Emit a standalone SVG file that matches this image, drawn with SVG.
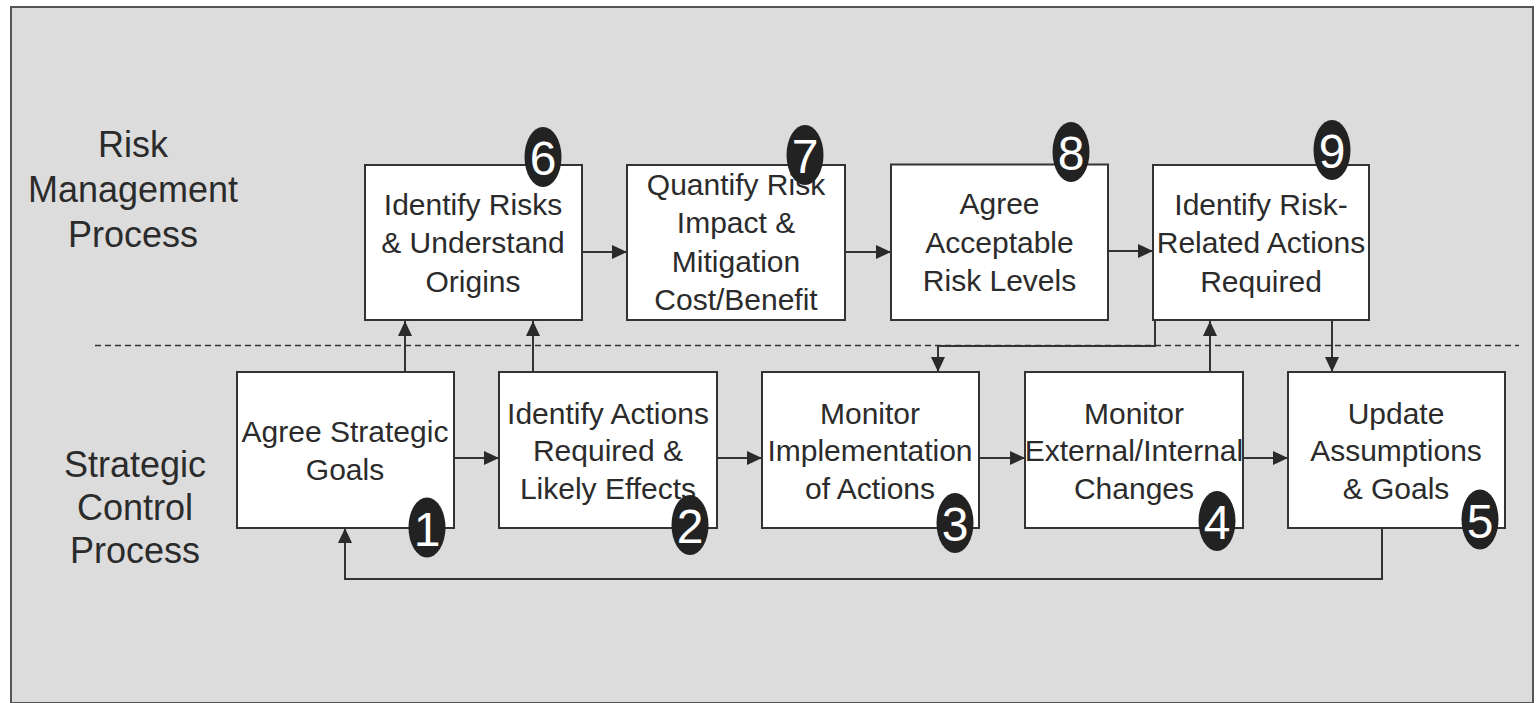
<svg xmlns="http://www.w3.org/2000/svg" width="1537" height="703" viewBox="0 0 1537 703">
  <style>
    .frame { fill: #dcdcdc; stroke: #555555; stroke-width: 2; }
    .box { fill: #ffffff; stroke: #333333; stroke-width: 2; }
    .lbl { font-family: "Liberation Sans", Arial, Helvetica, sans-serif; font-size: 30px; fill: #2b2b2b; text-anchor: middle; }
    .side { font-family: "Liberation Sans", Arial, Helvetica, sans-serif; font-size: 36px; fill: #2b2b2b; text-anchor: middle; }
    .badge { fill: #222222; }
    .num { font-family: "Liberation Sans", Arial, Helvetica, sans-serif; font-size: 48px; fill: #ffffff; text-anchor: middle; }
    .wire { fill: none; stroke: #333333; stroke-width: 2; }
    .sep { fill: none; stroke: #333333; stroke-width: 1.5; stroke-dasharray: 6 4; }
  </style>
  <defs>
    <marker id="arrow" markerUnits="userSpaceOnUse" markerWidth="16" markerHeight="14" refX="15" refY="7" orient="auto">
      <path d="M0,0 L15,7 L0,14 Z" fill="#2a2a2a"/>
    </marker>
  </defs>

  <!-- background panel -->
  <rect class="frame" x="11" y="7" width="1522" height="696"/>

  <!-- lane labels -->
  <g id="lane-risk">
    <text class="side" x="133" y="157">Risk</text>
    <text class="side" x="133" y="202">Management</text>
    <text class="side" x="133" y="247">Process</text>
  </g>
  <g id="lane-strategic">
    <text class="side" x="135" y="477">Strategic</text>
    <text class="side" x="135" y="520">Control</text>
    <text class="side" x="135" y="563">Process</text>
  </g>

  <!-- lane separator -->
  <line class="sep" x1="95" y1="345.5" x2="1519" y2="345.5"/>

  <!-- connectors -->
  <g id="connectors">
    <path class="wire" d="M454,458 L499,458" marker-end="url(#arrow)"/>
    <path class="wire" d="M717,458 L762,458" marker-end="url(#arrow)"/>
    <path class="wire" d="M979,458 L1025,458" marker-end="url(#arrow)"/>
    <path class="wire" d="M1243,458 L1288,458" marker-end="url(#arrow)"/>
    <path class="wire" d="M582,252 L627,252" marker-end="url(#arrow)"/>
    <path class="wire" d="M845,252 L891,252" marker-end="url(#arrow)"/>
    <path class="wire" d="M1108,251 L1153,251" marker-end="url(#arrow)"/>
    <path class="wire" d="M405,372 L405,321" marker-end="url(#arrow)"/>
    <path class="wire" d="M533,372 L533,321" marker-end="url(#arrow)"/>
    <path class="wire" d="M1155,320 L1155,346 L938,346 L938,372" marker-end="url(#arrow)"/>
    <path class="wire" d="M1210,372 L1210,321" marker-end="url(#arrow)"/>
    <path class="wire" d="M1332,320 L1332,372" marker-end="url(#arrow)"/>
    <path class="wire" d="M1382,528 L1382,579 L345,579 L345,528" marker-end="url(#arrow)"/>
  </g>

  <!-- strategic control process -->
  <g id="node-1">
    <rect class="box" x="237" y="372" width="217" height="156"/>
    <text class="lbl" x="345" y="442">Agree Strategic</text>
    <text class="lbl" x="345" y="480">Goals</text>
    <ellipse class="badge" cx="427" cy="527.5" rx="18.5" ry="30"/>
    <text class="num" x="427" y="545.5">1</text>
  </g>
  <g id="node-2">
    <rect class="box" x="499" y="372" width="218" height="156"/>
    <text class="lbl" x="608" y="423.5">Identify Actions</text>
    <text class="lbl" x="608" y="461">Required &amp;</text>
    <text class="lbl" x="608" y="498.5">Likely Effects</text>
    <ellipse class="badge" cx="690" cy="525" rx="18.5" ry="30"/>
    <text class="num" x="690" y="543">2</text>
  </g>
  <g id="node-3">
    <rect class="box" x="762" y="372" width="217" height="156"/>
    <text class="lbl" x="870" y="423.5">Monitor</text>
    <text class="lbl" x="870" y="461">Implementation</text>
    <text class="lbl" x="870" y="498.5">of Actions</text>
    <ellipse class="badge" cx="955" cy="523" rx="18.5" ry="30"/>
    <text class="num" x="955" y="541">3</text>
  </g>
  <g id="node-4">
    <rect class="box" x="1025" y="372" width="218" height="156"/>
    <text class="lbl" x="1134" y="423.5">Monitor</text>
    <text class="lbl" x="1134" y="461">External/Internal</text>
    <text class="lbl" x="1134" y="498.5">Changes</text>
    <ellipse class="badge" cx="1217" cy="521" rx="18.5" ry="30"/>
    <text class="num" x="1217" y="539">4</text>
  </g>
  <g id="node-5">
    <rect class="box" x="1288" y="372" width="217" height="156"/>
    <text class="lbl" x="1396" y="423.5">Update</text>
    <text class="lbl" x="1396" y="461">Assumptions</text>
    <text class="lbl" x="1396" y="498.5">&amp; Goals</text>
    <ellipse class="badge" cx="1480" cy="519.5" rx="18.5" ry="30"/>
    <text class="num" x="1480" y="537.5">5</text>
  </g>

  <!-- risk management process -->
  <g id="node-6">
    <rect class="box" x="365" y="165" width="217" height="155"/>
    <text class="lbl" x="473" y="215">Identify Risks</text>
    <text class="lbl" x="473" y="253">&amp; Understand</text>
    <text class="lbl" x="473" y="291.5">Origins</text>
    <ellipse class="badge" cx="543" cy="157" rx="18.5" ry="30"/>
    <text class="num" x="543" y="175">6</text>
  </g>
  <g id="node-7">
    <rect class="box" x="627" y="165" width="218" height="155"/>
    <text class="lbl" x="736" y="195">Quantify Risk</text>
    <text class="lbl" x="736" y="233">Impact &amp;</text>
    <text class="lbl" x="736" y="271.5">Mitigation</text>
    <text class="lbl" x="736" y="310">Cost/Benefit</text>
    <ellipse class="badge" cx="805" cy="155" rx="18.5" ry="30"/>
    <text class="num" x="805" y="173">7</text>
  </g>
  <g id="node-8">
    <rect class="box" x="891" y="164.5" width="217" height="155.5"/>
    <text class="lbl" x="999.5" y="214">Agree</text>
    <text class="lbl" x="999.5" y="252.5">Acceptable</text>
    <text class="lbl" x="999.5" y="290.5">Risk Levels</text>
    <ellipse class="badge" cx="1071" cy="152" rx="18.5" ry="30"/>
    <text class="num" x="1071" y="170">8</text>
  </g>
  <g id="node-9">
    <rect class="box" x="1153" y="165" width="216" height="155"/>
    <text class="lbl" x="1261" y="215">Identify Risk-</text>
    <text class="lbl" x="1261" y="253">Related Actions</text>
    <text class="lbl" x="1261" y="291.5">Required</text>
    <ellipse class="badge" cx="1332" cy="150" rx="18.5" ry="30"/>
    <text class="num" x="1332" y="168">9</text>
  </g>
</svg>
